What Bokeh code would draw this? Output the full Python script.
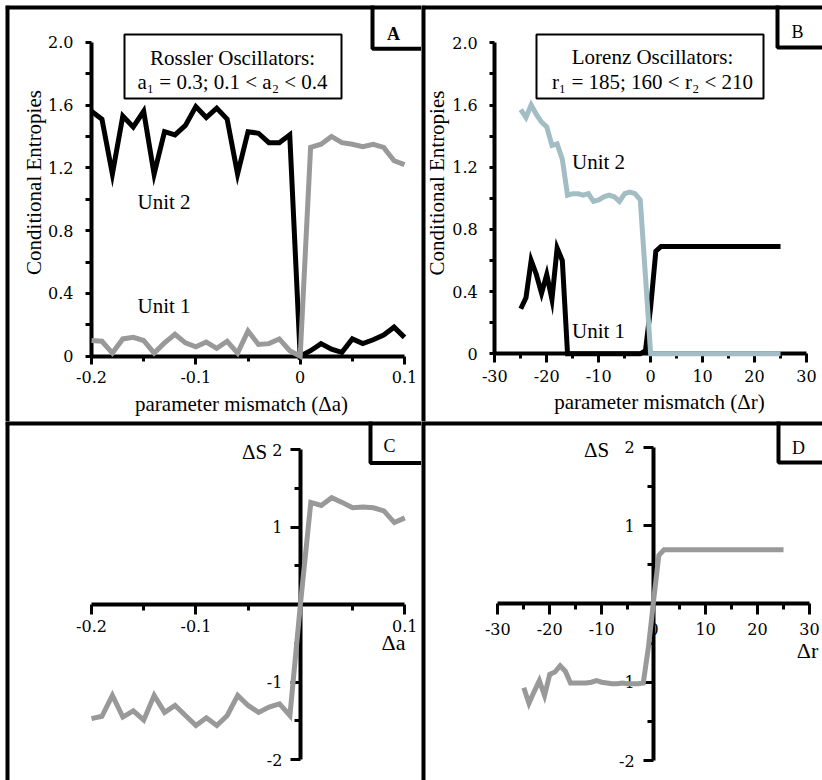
from bokeh.plotting import figure
from bokeh.models import LinearAxis, FixedTicker, Range1d, CustomJSTickFormatter
from bokeh.layouts import column, row
from bokeh.embed import file_html
from bokeh.resources import INLINE
from bokeh.core.properties import value

# ---------------- data ----------------
# Rossler oscillators: parameter mismatch (delta a)
rossler_da = [-0.20, -0.19, -0.18, -0.17, -0.16, -0.15, -0.14, -0.13, -0.12, -0.11,
              -0.10, -0.09, -0.08, -0.07, -0.06, -0.05, -0.04, -0.03, -0.02, -0.01,
              0.00, 0.01, 0.02, 0.03, 0.04, 0.05, 0.06, 0.07, 0.08, 0.09, 0.10]
rossler_unit2 = [1.56, 1.51, 1.16, 1.53, 1.46, 1.56, 1.16, 1.43, 1.41, 1.47,
                 1.59, 1.52, 1.58, 1.51, 1.16, 1.43, 1.42, 1.36, 1.36, 1.41,
                 0.00, 0.035, 0.08, 0.045, 0.025, 0.11, 0.08, 0.105, 0.135, 0.185, 0.12]
rossler_unit1 = [0.10, 0.095, 0.02, 0.11, 0.12, 0.10, 0.02, 0.085, 0.14, 0.085,
                 0.06, 0.09, 0.05, 0.095, 0.02, 0.16, 0.075, 0.08, 0.11, 0.035,
                 0.00, 1.33, 1.35, 1.40, 1.36, 1.35, 1.335, 1.35, 1.33, 1.245, 1.22]
rossler_dS = [-1.47, -1.44, -1.17, -1.45, -1.37, -1.49, -1.17, -1.39, -1.30, -1.43,
              -1.56, -1.46, -1.56, -1.43, -1.17, -1.30, -1.39, -1.32, -1.28, -1.43,
              0.00, 1.32, 1.28, 1.38, 1.32, 1.25, 1.26, 1.25, 1.21, 1.06, 1.12]

# Lorenz oscillators: parameter mismatch (delta r)
lorenz_dr = [-25, -24, -23, -22, -21, -20, -19, -18, -17, -16, -15, -14, -13, -12, -11,
             -10, -9, -8, -7, -6, -5, -4, -3, -2, -1, 0, 1, 2, 3, 4, 5, 6, 7, 8, 9,
             10, 11, 12, 13, 14, 15, 16, 17, 18, 19, 20, 21, 22, 23, 24, 25]
lorenz_unit2 = [1.57, 1.52, 1.60, 1.54, 1.49, 1.46, 1.34, 1.35, 1.25, 1.02, 1.03, 1.03, 1.02,
                1.03, 0.98, 0.99, 1.01, 1.02, 1.01, 0.98, 1.03, 1.04, 1.03, 0.99, 0.50, 0.00,
                0.00, 0.00, 0.00, 0.00, 0.00, 0.00, 0.00, 0.00, 0.00, 0.00, 0.00, 0.00, 0.00,
                0.00, 0.00, 0.00, 0.00, 0.00, 0.00, 0.00, 0.00, 0.00, 0.00, 0.00, 0.00]
lorenz_unit1 = [0.29, 0.36, 0.60, 0.51, 0.39, 0.51, 0.35, 0.68, 0.60, 0.00, 0.00, 0.00, 0.00,
                0.00, 0.00, 0.00, 0.00, 0.00, 0.00, 0.00, 0.00, 0.00, 0.00, 0.00, 0.02, 0.30,
                0.66, 0.69, 0.69, 0.69, 0.69, 0.69, 0.69, 0.69, 0.69, 0.69, 0.69, 0.69, 0.69,
                0.69, 0.69, 0.69, 0.69, 0.69, 0.69, 0.69, 0.69, 0.69, 0.69, 0.69, 0.69]
lorenz_dS = [-1.07, -1.27, -1.12, -0.98, -1.17, -0.90, -0.87, -0.79, -0.86, -1.01, -1.01,
             -1.01, -1.01, -1.00, -0.98, -1.00, -1.01, -1.02, -1.02, -1.01, -1.02, -1.02,
             -1.02, -1.01, -0.55, 0.05, 0.62, 0.69, 0.69, 0.69, 0.69, 0.69, 0.69, 0.69,
             0.69, 0.69, 0.69, 0.69, 0.69, 0.69, 0.69, 0.69, 0.69, 0.69, 0.69, 0.69, 0.69,
             0.69, 0.69, 0.69, 0.69]

# tick values and labels
entropy_ticks = [0.0, 0.4, 0.8, 1.2, 1.6, 2.0]
entropy_labels = ["0", "0.4", "0.8", "1.2", "1.6", "2.0"]
entropy_minor = [0.2, 0.6, 1.0, 1.4, 1.8]
da_ticks = [-0.2, -0.1, 0.0, 0.1]
da_labels = ["-0.2", "-0.1", "0", "0.1"]
da_minor = [-0.15, -0.05, 0.05]
da_ticks_c = [-0.2, -0.1, 0.1]
da_labels_c = ["-0.2", "-0.1", "0.1"]
dr_ticks = [-30, -20, -10, 0, 10, 20, 30]
dr_labels = ["-30", "-20", "-10", "0", "10", "20", "30"]
dr_minor = [-25, -15, -5, 5, 15, 25]
ds_ticks = [-2, -1, 1, 2]
ds_labels = ["-2", "-1", "1", "2"]
ds_minor = [-1.5, -0.5, 0.5, 1.5]

SERIF = "Liberation Serif"
TICK_FONT = "DejaVu Serif"
BLACK = "#000000"
GRAY = "#999999"
STEEL = "#a3bdc5"


class Panel:
    """Pixel geometry of one panel: its frame box on the page plus two
    reference points per axis, from which the data ranges are derived."""

    def __init__(self, left, top, w, h, xref, yref):
        (xv0, xp0), (xv1, xp1) = xref
        (yv0, yp0), (yv1, yp1) = yref
        self.left, self.top, self.w, self.h = left, top, w, h
        self.sx = (xp1 - xp0) / (xv1 - xv0)
        self.sy = (yp0 - yp1) / (yv1 - yv0)
        self.x0 = xv0 + (left - xp0) / self.sx
        self.x1 = self.x0 + w / self.sx
        self.y1 = yv0 + (yp0 - top) / self.sy
        self.y0 = self.y1 - h / self.sy

    def x(self, px):
        return self.x0 + (px - self.left) / self.sx

    def y(self, py):
        return self.y1 - (py - self.top) / self.sy


def make_figure(g, width, height, border_left, border_top):
    p = figure(width=width, height=height, title=None,
               x_range=Range1d(g.x0, g.x1), y_range=Range1d(g.y0, g.y1),
               x_axis_location=None, y_axis_location=None,
               toolbar_location=None, output_backend="svg",
               min_border_left=border_left, min_border_top=border_top,
               min_border_right=0, min_border_bottom=0,
               outline_line_color=None, background_fill_color="white",
               border_fill_color="white")
    p.grid.visible = False
    # panel frame: left and top edges (half of the stroke falls inside the frame)
    p.segment(x0=[g.x0, g.x0], y0=[g.y0, g.y1], x1=[g.x0, g.x1], y1=[g.y1, g.y1],
              line_color=BLACK, line_width=8)
    return p


def formatter(ticks, labels):
    return CustomJSTickFormatter(args=dict(vals=ticks, labs=labels), code="""
        for (let i = 0; i < vals.length; i++) {
            if (Math.abs(vals[i] - tick) < 1e-9) { return labs[i]; }
        }
        return "";
    """)


def add_axis(p, side, ticks, labels, minor, loc, bounds, tick_out, minor_out, standoff):
    ax = LinearAxis()
    ax.ticker = FixedTicker(ticks=ticks, minor_ticks=minor)
    ax.formatter = formatter(ticks, labels)
    ax.fixed_location = loc
    ax.bounds = bounds
    ax.axis_line_color = BLACK
    ax.axis_line_width = 4
    ax.major_tick_line_color = BLACK
    ax.major_tick_line_width = 3
    ax.minor_tick_line_color = BLACK
    ax.minor_tick_line_width = 3
    ax.major_tick_in = 0
    ax.major_tick_out = tick_out
    ax.minor_tick_in = 0
    ax.minor_tick_out = minor_out
    ax.major_label_standoff = standoff
    ax.major_label_text_font = TICK_FONT
    ax.major_label_text_font_size = "16px"
    ax.major_label_text_color = BLACK
    p.add_layout(ax, side)


def add_text(p, g, px, py, txt, size, align="left", baseline="alphabetic", angle=0.0,
             style="normal"):
    p.text(x=[g.x(px)], y=[g.y(py)], text=[txt], angle=angle,
           text_font=value(SERIF), text_font_size=size, text_color=BLACK,
           text_font_style=style, text_align=align, text_baseline=baseline)


def add_letter_box(p, g, left_px, bottom_px, letter, cx, cy, style="normal"):
    p.quad(left=[g.x(left_px)], right=[g.x(left_px + 120)], top=[g.y(-30)],
           bottom=[g.y(bottom_px)], fill_color=None, line_color=BLACK, line_width=4)
    add_text(p, g, cx, cy, letter, "18px", align="center", baseline="middle", style=style)


def add_info_box(p, g, l, r, t, b, lines, cx, baselines):
    p.quad(left=[g.x(l)], right=[g.x(r)], top=[g.y(t)], bottom=[g.y(b)],
           fill_color="white", line_color=BLACK, line_width=2)
    for txt, by in zip(lines, baselines):
        add_text(p, g, cx, by, txt, "21px", align="center")


def data_line(p, x, y, color):
    p.line(x, y, line_color=color, line_width=5, line_join="miter", level="overlay")


# ---------------- panel A: Rossler conditional entropies ----------------
gA = Panel(5, 5, 416, 416, ((-0.2, 91.0), (0.1, 404.0)), ((0.0, 355.7), (2.0, 41.7)))
pA = make_figure(gA, 421, 421, 5, 5)
add_axis(pA, "left", entropy_ticks, entropy_labels, entropy_minor, -0.2, (0.0, 2.0), 6, 6, 12)
add_axis(pA, "below", da_ticks, da_labels, da_minor, 0.0, (-0.2, 0.1), 8, 5, 7)
data_line(pA, rossler_da, rossler_unit2, BLACK)
data_line(pA, rossler_da, rossler_unit1, GRAY)
add_info_box(pA, gA, 124, 341, 34, 98,
             ["Rossler Oscillators:", "a\u2081 = 0.3; 0.1 < a\u2082 < 0.4"], 232, [57, 81.5])
add_letter_box(pA, gA, 372, 48.3, "A", 393, 33, style="bold")
add_text(pA, gA, 137, 201.5, "Unit 2", "21px")
add_text(pA, gA, 137, 305, "Unit 1", "21px")
add_text(pA, gA, 241, 403, "parameter mismatch (\u0394a)", "21px", align="center")
add_text(pA, gA, 33, 182, "Conditional Entropies", "21px", align="center",
         baseline="middle", angle=1.5707963)

# ---------------- panel B: Lorenz conditional entropies ----------------
gB = Panel(421, 5, 401, 416, ((-30.0, 494.3), (30.0, 806.0)), ((0.0, 353.3), (2.0, 42.3)))
pB = make_figure(gB, 401, 421, 0, 5)
add_axis(pB, "left", entropy_ticks, entropy_labels, entropy_minor, -30.0, (0.0, 2.0), 5, 5, 12)
add_axis(pB, "below", dr_ticks, dr_labels, dr_minor, 0.0, (-30.0, 30.0), 9, 5, 7)
data_line(pB, lorenz_dr, lorenz_unit1, BLACK)
data_line(pB, lorenz_dr, lorenz_unit2, STEEL)
add_info_box(pB, gB, 536, 763, 34, 98,
             ["Lorenz Oscillators:", "r\u2081 = 185; 160 < r\u2082 < 210"], 652, [56.5, 81.5])
add_letter_box(pB, gB, 777, 47, "B", 797, 31)
add_text(pB, gB, 571.5, 161.5, "Unit 2", "21px")
add_text(pB, gB, 571.5, 330, "Unit 1", "21px")
add_text(pB, gB, 659, 401, "parameter mismatch (\u0394r)", "21px", align="center")
add_text(pB, gB, 436.5, 182.5, "Conditional Entropies", "21px", align="center",
         baseline="middle", angle=1.5707963)

# ---------------- panel C: Rossler entropy difference ----------------
gC = Panel(5, 421, 416, 359, ((-0.2, 91.0), (0.1, 404.3)), ((1.0, 526.7), (-1.0, 681.7)))
pC = make_figure(gC, 421, 359, 5, 0)
add_axis(pC, "left", ds_ticks, ds_labels, ds_minor, 0.0, (-2.0, 2.0), 10, 6, 8)
add_axis(pC, "below", da_ticks_c, da_labels_c, da_minor, 0.0, (-0.2, 0.1), 10, 6, 5)
data_line(pC, rossler_da, rossler_dS, GRAY)
add_letter_box(pC, gC, 370, 462.5, "C", 389, 445)
add_text(pC, gC, 254, 451, "\u0394S", "21px", align="center", baseline="middle")
add_text(pC, gC, 393, 642, "\u0394a", "22px", align="center", baseline="middle")

# ---------------- panel D: Lorenz entropy difference ----------------
gD = Panel(421, 421, 401, 359, ((-30.0, 497.3), (30.0, 809.0)), ((1.0, 525.0), (-1.0, 681.7)))
pD = make_figure(gD, 401, 359, 0, 0)
add_axis(pD, "left", ds_ticks, ds_labels, ds_minor, 0.0, (-2.0, 2.0), 10, 6, 9)
add_axis(pD, "below", dr_ticks, dr_labels, dr_minor, 0.0, (-30.0, 30.0), 11, 6, 8)
data_line(pD, lorenz_dr, lorenz_dS, GRAY)
add_letter_box(pD, gD, 778, 462, "D", 798, 447.5)
add_text(pD, gD, 596, 449.5, "\u0394S", "21px", align="center", baseline="middle")
add_text(pD, gD, 807, 650, "\u0394r", "22px", align="center", baseline="middle")

layout = column(row(pA, pB), row(pC, pD))
open("out.html", "w").write(file_html(layout, INLINE))
